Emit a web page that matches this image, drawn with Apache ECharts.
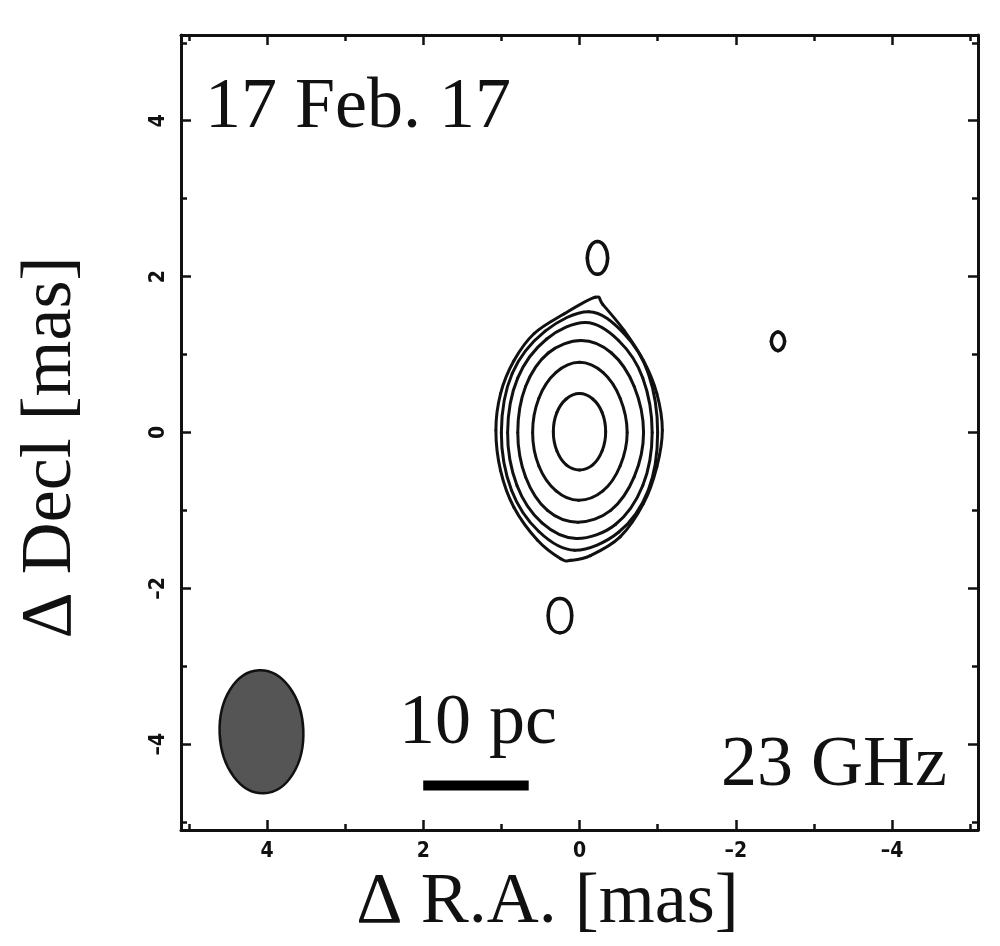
<!DOCTYPE html>
<html>
<head>
<meta charset="utf-8">
<script src="https://cdn.jsdelivr.net/npm/echarts@6/dist/echarts.min.js"></script>
<style>
html,body{margin:0;padding:0;background:#fff;}
#chart{width:1000px;height:946px;}
</style>
</head>
<body>
<div id="chart"></div>
<script>
// ---- axis ticks / labels ----
var xMajorTicks = [4, 2, 0, -2, -4];
var xMajorLabels = ['4', '2', '0', '\u20132', '\u20134'];
var yMajorTicks = [4, 2, 0, -2, -4];
var yMajorLabels = ['4', '2', '0', '\u20132', '\u20134'];
var minorTicks = [5, 3, 1, -1, -3, -5];

// ---- contour levels (ΔRA, ΔDecl in mas) ----
var contourOuter = [[-0.20,1.735],[0.20,1.52],[0.58,1.27],[0.84,0.92],[1.01,0.50],[1.07,0.03],[1.01,-0.49],[0.84,-0.96],[0.54,-1.38],[0.24,-1.62],[0.11,-1.64],[-0.14,-1.58],[-0.52,-1.34],[-0.82,-0.91],[-0.99,-0.44],[-1.06,0.03],[-0.99,0.50],[-0.82,0.92],[-0.57,1.31],[-0.30,1.64]];
var contour5 = [[-0.12,1.55],[-0.56,1.28],[-0.88,0.76],[-1.00,0.00],[-0.88,-0.74],[-0.50,-1.28],[0.06,-1.51],[0.52,-1.27],[0.87,-0.74],[1.00,0.00],[0.86,0.76],[0.44,1.30]];
var contour4 = [[-0.08,1.41],[-0.50,1.18],[-0.81,0.70],[-0.93,0.00],[-0.81,-0.68],[-0.46,-1.18],[0.04,-1.36],[0.48,-1.16],[0.80,-0.68],[0.92,0.00],[0.79,0.70],[0.42,1.20]];
var contour3 = [[-0.02,1.18],[-0.41,1.02],[-0.70,0.59],[-0.82,0.00],[-0.70,-0.57],[-0.40,-1.00],[0.02,-1.15],[0.41,-1.00],[0.69,-0.57],[0.79,0.00],[0.69,0.59],[0.40,1.02]];
var contour2 = [[0.00,0.90],[-0.30,0.77],[-0.52,0.44],[-0.61,0.00],[-0.52,-0.43],[-0.30,-0.75],[0.01,-0.87],[0.30,-0.75],[0.52,-0.43],[0.60,0.00],[0.52,0.44],[0.30,0.77]];
var contour1 = [[0.00,0.50],[-0.17,0.43],[-0.29,0.255],[-0.335,0.01],[-0.29,-0.235],[-0.17,-0.415],[0.00,-0.48],[0.17,-0.415],[0.29,-0.235],[0.335,0.01],[0.29,0.255],[0.17,0.43]];
var blobNorth = [[-0.23,2.45],[-0.32,2.39],[-0.36,2.24],[-0.32,2.09],[-0.23,2.03],[-0.14,2.09],[-0.10,2.24],[-0.14,2.39]];
var blobSouth = [[0.25,-2.13],[0.14,-2.19],[0.10,-2.35],[0.14,-2.51],[0.25,-2.57],[0.36,-2.51],[0.40,-2.35],[0.36,-2.19]];
var blobEast = [[-2.54,1.29],[-2.60,1.25],[-2.625,1.17],[-2.60,1.09],[-2.54,1.05],[-2.48,1.09],[-2.455,1.17],[-2.48,1.25]];
var contours = [contourOuter, contour5, contour4, contour3, contour2, contour1, blobNorth, blobSouth, blobEast];

// ---- beam: [ΔRA centre, ΔDecl centre, semi-axis RA, semi-axis Decl] ----
var beam = [[4.07, -3.84, 0.536, 0.79]];
// ---- 10 pc scale bar ----
var scaleBar = [[2.0, -4.53], [0.65, -4.53]];

var serif = '"Liberation Serif", "Times New Roman", serif';
var tickFont = '"DejaVu Sans Condensed", "Liberation Sans", Arial, sans-serif';

function fmt(ticks, labels) {
  return function (v) {
    var i = ticks.indexOf(Math.round(v * 100) / 100);
    return i >= 0 ? labels[i] : '';
  };
}

function makeX(pos, major, withLabel) {
  var ax = {
    type: 'value', position: pos, min: -5.1, max: 5.1, inverse: true,
    gridIndex: 0,
    splitLine: {show: false},
    axisLine: {show: major, onZero: false, lineStyle: {color: '#111', width: 3}},
    axisTick: {show: true, inside: true, length: major ? 10 : 6,
      customValues: major ? xMajorTicks : minorTicks,
      lineStyle: {color: '#111', width: 2.5}},
    axisLabel: {show: false}
  };
  if (withLabel) {
    ax.axisLabel = {show: true, customValues: xMajorTicks, formatter: fmt(xMajorTicks, xMajorLabels),
      margin: 11, color: '#111', fontWeight: 'bold', fontSize: 21, fontFamily: tickFont};
    ax.name = '\u0394 R.A. [mas]';
    ax.nameLocation = 'middle';
    ax.nameGap = 37;
    ax.nameTextStyle = {fontFamily: serif, fontSize: 72, color: '#111', padding: [0, 64, 0, 0]};
  }
  return ax;
}
function makeY(pos, major, withLabel) {
  var ax = {
    type: 'value', position: pos, min: -5.1, max: 5.1,
    gridIndex: 0,
    splitLine: {show: false},
    axisLine: {show: major, onZero: false, lineStyle: {color: '#111', width: 3}},
    axisTick: {show: true, inside: true, length: major ? 10 : 6,
      customValues: major ? yMajorTicks : minorTicks,
      lineStyle: {color: '#111', width: 2.5}},
    axisLabel: {show: false}
  };
  if (withLabel) {
    ax.axisLabel = {show: true, customValues: yMajorTicks, formatter: fmt(yMajorTicks, yMajorLabels),
      rotate: 90, margin: 12, color: '#111', fontWeight: 'bold', fontSize: 21, fontFamily: tickFont};
    ax.name = '\u0394 Decl [mas]';
    ax.nameLocation = 'middle';
    ax.nameRotate = 90;
    ax.nameGap = 94;
    ax.nameTextStyle = {fontFamily: serif, fontSize: 72, color: '#111', padding: [0, 30, 0, 0]};
  }
  return ax;
}

// closed smooth curve through the read contour vertices (Catmull-Rom drawn as cubic Béziers)
function contourSeries(pts, lw) {
  return {
    type: 'custom', xAxisIndex: 0, yAxisIndex: 0, silent: true,
    data: pts,
    renderItem: function (params, api) {
      if (params.dataIndex !== 0) return null;
      var p = pts.map(function (d) { return api.coord(d); });
      var n = p.length, children = [];
      for (var i = 0; i < n; i++) {
        var p0 = p[(i - 1 + n) % n], p1 = p[i], p2 = p[(i + 1) % n], p3 = p[(i + 2) % n];
        children.push({
          type: 'bezierCurve',
          shape: {
            x1: p1[0], y1: p1[1], x2: p2[0], y2: p2[1],
            cpx1: p1[0] + (p2[0] - p0[0]) / 6, cpy1: p1[1] + (p2[1] - p0[1]) / 6,
            cpx2: p2[0] - (p3[0] - p1[0]) / 6, cpy2: p2[1] - (p3[1] - p1[1]) / 6
          },
          style: {fill: 'none', stroke: '#111', lineWidth: lw, lineCap: 'round'}
        });
      }
      return {type: 'group', children: children};
    }
  };
}

var series = contours.map(function (c, i) { return contourSeries(c, i >= 6 ? 3.5 : 3); });
series.push({
  type: 'custom', xAxisIndex: 0, yAxisIndex: 0, silent: true,
  data: beam,
  renderItem: function (params, api) {
    var c = api.coord([api.value(0), api.value(1)]);
    var s = api.size([api.value(2), api.value(3)]);
    return {type: 'ellipse', x: c[0], y: c[1], rotation: 0.04,
      shape: {cx: 0, cy: 0, rx: s[0], ry: s[1]},
      style: {fill: '#555', stroke: '#111', lineWidth: 2.5}};
  }
});
series.push({
  type: 'line', xAxisIndex: 0, yAxisIndex: 0, silent: true,
  data: scaleBar, symbol: 'none',
  lineStyle: {color: '#000', width: 10, cap: 'butt'}
});

var chart = echarts.init(document.getElementById('chart'), null, {renderer: 'canvas'});
chart.setOption({
  backgroundColor: '#fff',
  animation: false,
  grid: {left: 181, right: 22, top: 35, bottom: 116, containLabel: false},
  xAxis: [makeX('bottom', true, true), makeX('bottom', false, false), makeX('top', true, false), makeX('top', false, false)],
  yAxis: [makeY('left', true, true), makeY('left', false, false), makeY('right', true, false), makeY('right', false, false)],
  graphic: [
    {type: 'text', x: 205, y: 108, silent: true,
      style: {text: '17 Feb. 17', font: '72px ' + serif, fill: '#111', textAlign: 'left', textVerticalAlign: 'middle'}},
    {type: 'text', x: 947, y: 766, silent: true,
      style: {text: '23 GHz', font: '72px ' + serif, fill: '#111', textAlign: 'right', textVerticalAlign: 'middle'}},
    {type: 'text', x: 399, y: 724, silent: true,
      style: {text: '10 pc', font: '72px ' + serif, fill: '#111', textAlign: 'left', textVerticalAlign: 'middle'}}
  ],
  series: series
});
</script>
</body>
</html>
